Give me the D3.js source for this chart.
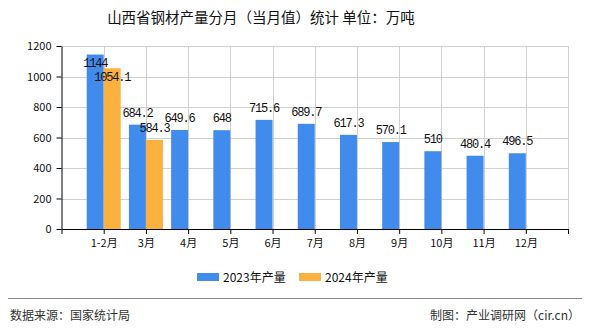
<!DOCTYPE html>
<html><head><meta charset="utf-8">
<script src="https://cdn.jsdelivr.net/npm/d3@7"></script>
<style>body{margin:0;background:#fff}svg{display:block}</style>
</head><body>
<script>
const categories = ["1-2月","3月","4月","5月","6月","7月","8月","9月","10月","11月","12月"];
const series2023 = [1144,684.2,649.6,648,715.6,689.7,617.3,570.1,510,480.4,496.5];
const series2024 = [1054.1,584.3];
const seriesNames = ["2023年产量","2024年产量"];
const yTicks = [0,200,400,600,800,1000,1200];
const colors = ["#418BED","#FBB13F"];

(function(){
const W=590,H=330;
const svg=d3.select("body").append("svg").attr("width",W).attr("height",H);
const pL=61.5,pR=568,pT=46,pB=229;
const x=d3.scaleLinear().domain([0,categories.length+1]).range([pL,pR]);
const y=d3.scaleLinear().domain([0,1200]).range([pB,pT]);
const bw=17;
const sans="'Noto Sans CJK SC','Noto Sans',sans-serif";

svg.append("text").attr("x",261).attr("y",23).attr("text-anchor","middle")
  .attr("font-family",sans).attr("font-size",14.5).attr("fill","#111")
  .text("山西省钢材产量分月（当月值）统计 单位：万吨");

// grid
const g=svg.append("g");
g.selectAll(".hg").data(yTicks.slice(1)).join("line")
  .attr("x1",pL).attr("x2",pR).attr("y1",d=>Math.round(y(d))+0.5).attr("y2",d=>Math.round(y(d))+0.5)
  .attr("stroke","#d0d0d0");
g.selectAll(".vg").data(d3.range(1,categories.length+2)).join("line")
  .attr("x1",d=>Math.round(x(d))+0.5).attr("x2",d=>Math.round(x(d))+0.5).attr("y1",pT).attr("y2",pB)
  .attr("stroke","#d0d0d0");

// bars
const bars=svg.append("g");
bars.selectAll(".b1").data(series2023).join("rect")
  .attr("x",(d,i)=>x(i+1)-bw).attr("width",bw).attr("y",d=>y(d)).attr("height",d=>pB-y(d)).attr("fill",colors[0]);
bars.selectAll(".b2").data(series2024).join("rect")
  .attr("x",(d,i)=>x(i+1)).attr("width",bw).attr("y",d=>y(d)).attr("height",d=>pB-y(d)).attr("fill",colors[1]);

// labels
const lab=svg.append("g").attr("font-family","'Liberation Mono',monospace").attr("font-size",12)
  .attr("letter-spacing","-1.2px").attr("fill","#111").attr("text-anchor","middle");
const ly=d=> d>1000 ? y(d)+12.5 : y(d)-8;
lab.selectAll(".l1").data(series2023).join("text")
  .attr("x",(d,i)=>x(i+1)-bw/2).attr("y",d=>ly(d)).text(d=>d);
lab.selectAll(".l2").data(series2024).join("text")
  .attr("x",(d,i)=>x(i+1)+bw/2).attr("y",d=>ly(d)).text(d=>d);

// y axis
const ya=svg.append("g").attr("transform",`translate(${pL},0)`)
  .call(d3.axisLeft(y).tickValues(yTicks).tickFormat(d3.format("d")).tickSize(5).tickSizeOuter(0));
ya.select(".domain").attr("stroke","#000");
ya.selectAll("line").attr("stroke","#000");
ya.selectAll("text").attr("font-family",sans).attr("font-size",11).attr("fill","#111").attr("dx",-2);

// x axis
const xa=svg.append("g").attr("transform",`translate(0,${pB})`)
  .call(d3.axisBottom(x).tickValues(d3.range(0,categories.length+2)).tickSize(5).tickSizeOuter(0)
    .tickFormat(d=>categories[d-1]||""));
xa.select(".domain").attr("stroke","#000");
xa.selectAll("line").attr("stroke","#000");
xa.selectAll("text").attr("font-family",sans).attr("font-size",11).attr("fill","#111").attr("dy","0.9em");

// legend
const lg=svg.append("g").attr("font-family",sans).attr("font-size",12).attr("fill","#111");
const lx=[197,299];
seriesNames.forEach((n,i)=>{
  lg.append("rect").attr("x",lx[i]).attr("y",273).attr("width",22).attr("height",8).attr("fill",colors[i]);
  lg.append("text").attr("x",lx[i]+26).attr("y",281.5).text(n);
});

// footer
svg.append("line").attr("x1",8).attr("x2",582).attr("y1",298.5).attr("y2",298.5).attr("stroke","#888");
svg.append("text").attr("x",10).attr("y",320).attr("font-family",sans).attr("font-size",12).attr("fill","#333").text("数据来源：国家统计局");
svg.append("text").attr("x",580).attr("y",320).attr("text-anchor","end").attr("font-family",sans).attr("font-size",12).attr("fill","#333").text("制图：产业调研网（cir.cn）");
})();
</script>
</body></html>
